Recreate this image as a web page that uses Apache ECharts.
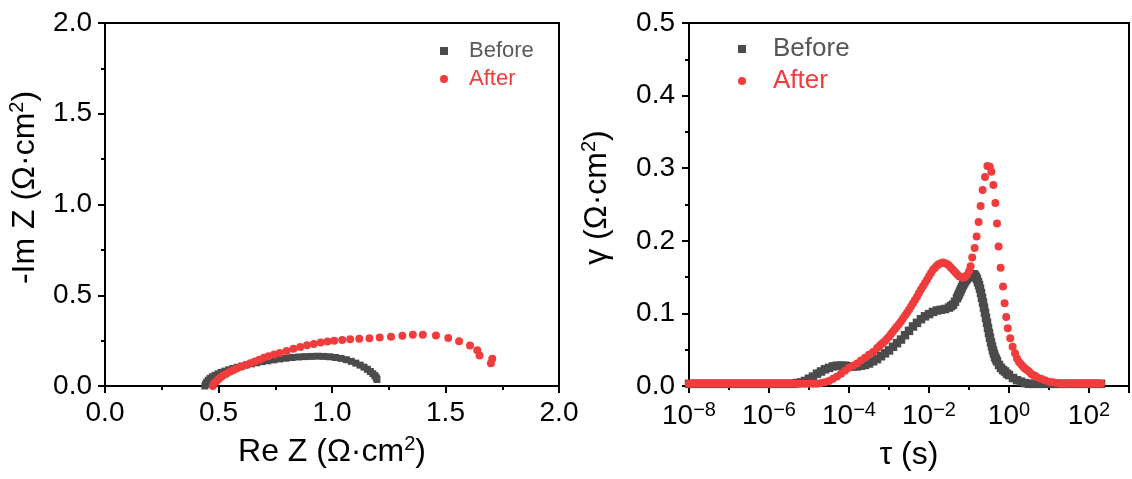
<!DOCTYPE html>
<html><head><meta charset="utf-8">
<script src="https://cdn.jsdelivr.net/npm/echarts@6/dist/echarts.min.js"></script>
<style>html,body{margin:0;padding:0;background:#fff}#c{width:1132px;height:479px}</style>
</head><body><div id="c"></div>
<script>
// ---------- data ----------
const seriesNames = ['Before', 'After'];

// Nyquist plot: [Re Z, -Im Z] in ohm*cm^2
const nyquistBefore = [
[0.440,0.000],[0.443,0.010],[0.448,0.021],[0.455,0.032],[0.463,0.042],[0.473,0.051],[0.485,0.059],[0.498,0.067],
[0.512,0.075],[0.528,0.082],[0.545,0.089],[0.563,0.096],[0.582,0.103],[0.602,0.110],[0.623,0.116],[0.645,0.122],
[0.668,0.128],[0.692,0.134],[0.717,0.139],[0.743,0.144],[0.770,0.149],[0.797,0.153],[0.825,0.157],[0.853,0.160],
[0.881,0.162],[0.909,0.163],[0.937,0.164],[0.964,0.163],[0.990,0.161],[1.015,0.157],[1.040,0.152],[1.063,0.145],
[1.085,0.136],[1.105,0.126],[1.124,0.115],[1.141,0.104],[1.156,0.092],[1.169,0.080],[1.180,0.068],[1.189,0.057],
[1.195,0.046],[1.198,0.036]
];
const nyquistAfter = [
[0.475,0.000],[0.480,0.012],[0.490,0.025],[0.500,0.037],[0.510,0.048],[0.520,0.058],[0.535,0.068],[0.550,0.078],
[0.565,0.087],[0.580,0.096],[0.600,0.106],[0.620,0.116],[0.640,0.126],[0.660,0.135],[0.680,0.145],[0.700,0.155],
[0.720,0.164],[0.745,0.173],[0.770,0.182],[0.800,0.193],[0.830,0.205],[0.860,0.215],[0.890,0.225],[0.920,0.232],
[0.950,0.239],[0.980,0.245],[1.010,0.250],[1.045,0.254],[1.080,0.257],[1.120,0.260],[1.165,0.263],[1.210,0.267],
[1.260,0.272],[1.310,0.277],[1.356,0.283],[1.400,0.283],[1.458,0.278],[1.512,0.265],[1.560,0.247],[1.608,0.223],
[1.640,0.197],[1.650,0.168],[1.706,0.150],[1.700,0.125]
];

// DRT plot: [log10(tau / s), gamma in ohm*cm^2]
const drtBefore = [
[-8.0,0.003],[-7.9,0.003],[-7.8,0.003],[-7.7,0.003],[-7.6,0.003],[-7.5,0.003],[-7.4,0.003],[-7.3,0.003],[-7.2,0.003],
[-7.1,0.003],[-7.0,0.003],[-6.9,0.003],[-6.8,0.003],[-6.7,0.003],[-6.6,0.003],[-6.5,0.003],[-6.4,0.003],[-6.3,0.003],
[-6.2,0.003],[-6.1,0.003],[-6.0,0.003],[-5.9,0.003],[-5.8,0.003],[-5.7,0.003],[-5.6,0.003],[-5.5,0.003],[-5.4,0.003],
[-5.3,0.004],[-5.2,0.005],[-5.1,0.007],[-5.0,0.010],[-4.9,0.013],[-4.8,0.017],[-4.7,0.020],[-4.6,0.023],[-4.5,0.025],
[-4.4,0.027],[-4.3,0.028],[-4.2,0.028],[-4.1,0.028],[-4.0,0.027],[-3.9,0.027],[-3.8,0.027],[-3.7,0.028],[-3.6,0.029],
[-3.5,0.031],[-3.4,0.034],[-3.3,0.037],[-3.2,0.041],[-3.1,0.045],[-3.0,0.049],[-2.9,0.054],[-2.8,0.059],[-2.7,0.064],
[-2.6,0.070],[-2.5,0.076],[-2.4,0.082],[-2.3,0.087],[-2.2,0.092],[-2.1,0.096],[-2.0,0.099],[-1.9,0.102],[-1.8,0.104],
[-1.7,0.105],[-1.6,0.106],[-1.5,0.108],[-1.45,0.110],[-1.4,0.112],[-1.35,0.116],[-1.3,0.121],[-1.275,0.124],
[-1.25,0.127],[-1.225,0.130],[-1.2,0.133],[-1.175,0.136],[-1.15,0.139],[-1.125,0.1415],[-1.1,0.144],[-1.075,0.146],
[-1.05,0.148],[-1.025,0.1495],[-1.0,0.151],[-0.975,0.152],[-0.95,0.153],[-0.925,0.1535],[-0.9,0.154],[-0.875,0.1535],
[-0.85,0.152],[-0.825,0.150],[-0.8,0.147],[-0.775,0.143],[-0.75,0.139],[-0.725,0.134],[-0.7,0.128],[-0.675,0.1215],
[-0.65,0.115],[-0.625,0.108],[-0.6,0.101],[-0.575,0.094],[-0.55,0.087],[-0.525,0.080],[-0.5,0.073],[-0.475,0.0665],
[-0.45,0.060],[-0.425,0.0545],[-0.4,0.049],[-0.375,0.0445],[-0.35,0.040],[-0.325,0.037],[-0.3,0.034],
[-0.25,0.029],[-0.2,0.025],[-0.15,0.022],[-0.1,0.020],[-0.05,0.017],[0.0,0.015],[0.1,0.011],[0.2,0.008],[0.3,0.006],
[0.4,0.004],[0.5,0.003],[0.6,0.003],[0.7,0.003],[0.8,0.003],[0.9,0.003],[1.0,0.003],[1.1,0.003],[1.2,0.003],[1.3,0.003],
[1.4,0.003],[1.5,0.003],[1.6,0.003],[1.7,0.003],[1.8,0.003],[1.9,0.003],[2.0,0.003],[2.1,0.003],[2.2,0.003],[2.3,0.003]
];
const drtAfter = [
[-8.0,0.003],[-7.9,0.003],[-7.8,0.003],[-7.7,0.003],[-7.6,0.003],[-7.5,0.003],[-7.4,0.003],[-7.3,0.003],[-7.2,0.003],
[-7.1,0.003],[-7.0,0.003],[-6.9,0.003],[-6.8,0.003],[-6.7,0.003],[-6.6,0.003],[-6.5,0.003],[-6.4,0.003],[-6.3,0.003],
[-6.2,0.003],[-6.1,0.003],[-6.0,0.003],[-5.9,0.003],[-5.8,0.003],[-5.7,0.003],[-5.6,0.003],[-5.5,0.003],[-5.4,0.003],
[-5.3,0.003],[-5.2,0.003],[-5.1,0.003],[-5.0,0.003],[-4.9,0.003],[-4.8,0.003],
[-4.7,0.004],[-4.6,0.005],[-4.5,0.007],[-4.4,0.010],[-4.3,0.013],[-4.2,0.017],[-4.1,0.021],[-4.0,0.025],[-3.9,0.028],
[-3.8,0.031],[-3.7,0.035],[-3.6,0.039],[-3.5,0.043],[-3.4,0.047],[-3.3,0.052],
[-3.25,0.0545],[-3.2,0.057],[-3.15,0.0595],[-3.1,0.062],[-3.05,0.065],[-3.0,0.068],[-2.95,0.0715],[-2.9,0.075],
[-2.85,0.0785],[-2.8,0.082],[-2.75,0.0855],[-2.7,0.089],[-2.65,0.093],[-2.6,0.097],[-2.55,0.101],[-2.5,0.105],
[-2.45,0.1095],[-2.4,0.114],[-2.35,0.1185],[-2.3,0.123],[-2.25,0.128],[-2.2,0.133],[-2.15,0.1375],[-2.1,0.142],
[-2.05,0.1465],[-2.0,0.151],[-1.95,0.1555],[-1.9,0.160],[-1.85,0.163],[-1.8,0.166],[-1.75,0.168],[-1.7,0.169],
[-1.65,0.170],[-1.6,0.169],[-1.55,0.168],[-1.5,0.166],[-1.45,0.163],[-1.4,0.160],[-1.35,0.157],[-1.3,0.154],
[-1.25,0.151],[-1.2,0.150],[-1.15,0.149],[-1.1,0.150],[-1.05,0.153],[-1.0,0.158],[-0.96,0.165],
[-0.92,0.177],[-0.86,0.190],[-0.81,0.206],[-0.76,0.226],[-0.71,0.248],[-0.66,0.270],[-0.60,0.288],[-0.54,0.303],
[-0.48,0.302],[-0.44,0.295],[-0.39,0.277],[-0.34,0.252],[-0.30,0.224],[-0.26,0.192],[-0.21,0.163],[-0.15,0.137],
[-0.11,0.114],[-0.07,0.095],[-0.03,0.0795],[0.03,0.0657],[0.09,0.054],[0.15,0.045],
[0.2,0.038],[0.25,0.033],[0.3,0.030],[0.35,0.027],[0.4,0.024],[0.45,0.022],[0.5,0.020],[0.55,0.017],[0.6,0.015],
[0.65,0.014],[0.7,0.012],[0.8,0.010],[0.9,0.008],[1.0,0.006],[1.1,0.005],[1.2,0.004],[1.3,0.003],[1.4,0.003],
[1.5,0.003],[1.6,0.003],[1.7,0.003],[1.8,0.003],[1.9,0.003],[2.0,0.003],[2.1,0.003],[2.2,0.003],[2.3,0.003]
];

// tick labels on the tau axis (exponents of 10)
const tauTickExponents = [-8, -6, -4, -2, 0, 2];

// ---------- style ----------
const FONT = '"Liberation Sans", Arial, sans-serif';
const GRAY = '#4b4b4b';
const RED = '#f03c3c';
const BLACK = '#000';

function nameStyle(padding) {
  return {
    fontSize: 32, color: BLACK, fontFamily: FONT, lineHeight: 36, padding: padding,
    rich: { sup: { fontSize: 20, color: BLACK, fontFamily: FONT, verticalAlign: 'top', lineHeight: 18 } }
  };
}

function baseAxis(extra) {
  return Object.assign({
    type: 'value',
    axisLine: { show: true, onZero: false, lineStyle: { color: BLACK, width: 2 } },
    axisTick: { show: true, inside: false, length: 7, lineStyle: { color: BLACK, width: 2 } },
    minorTick: { show: true, splitNumber: 2, length: 4, lineStyle: { color: BLACK, width: 2 } },
    splitLine: { show: false },
    minorSplitLine: { show: false },
    axisLabel: { fontSize: 28, color: BLACK, fontFamily: FONT },
    nameLocation: 'middle',
    nameTextStyle: nameStyle([0, 0, 0, 0])
  }, extra);
}

const supMinus = '\u2212';

const option = {
  animation: false,
  backgroundColor: '#fff',
  grid: [
    { left: 105, top: 23, width: 454, height: 363, show: true, borderColor: BLACK, borderWidth: 2, containLabel: false },
    { left: 689, top: 23, width: 452, height: 363, show: true, borderColor: BLACK, borderWidth: 2, containLabel: false }
  ],
  legend: [
    {
      orient: 'vertical', left: 435, top: 34, itemWidth: 8, itemHeight: 8, itemGap: 4, selectedMode: false,
      textStyle: { fontSize: 22, fontFamily: FONT, lineHeight: 24, padding: [0, 0, 0, 16] },
      data: [
        { name: seriesNames[0], icon: 'rect', itemStyle: { color: GRAY }, textStyle: { color: '#5a5a5a' } },
        { name: seriesNames[1], icon: 'circle', itemStyle: { color: RED }, textStyle: { color: RED } }
      ]
    },
    {
      orient: 'vertical', left: 733, top: 30, itemWidth: 8, itemHeight: 8, itemGap: 4, selectedMode: false,
      textStyle: { fontSize: 26, fontFamily: FONT, lineHeight: 28, padding: [0, 0, 0, 22] },
      data: [
        { name: seriesNames[0], icon: 'rect', itemStyle: { color: GRAY }, textStyle: { color: '#555555' } },
        { name: seriesNames[1], icon: 'circle', itemStyle: { color: RED }, textStyle: { color: RED } }
      ]
    }
  ],
  xAxis: [
    baseAxis({
      gridIndex: 0, min: 0, max: 2, interval: 0.5,
      axisLabel: { fontSize: 28, color: BLACK, fontFamily: FONT, margin: 13, formatter: v => v.toFixed(1) },
      name: 'Re Z (Ω·cm{sup|2})', nameGap: 48
    }),
    baseAxis({
      gridIndex: 1, min: -8, max: 3, interval: 2,
      axisLabel: {
        fontSize: 28, color: BLACK, fontFamily: FONT, margin: 14, lineHeight: 32,
        formatter: v => tauTickExponents.indexOf(v) >= 0 ? '10{sup|' + (v < 0 ? supMinus : '') + Math.abs(v) + '}' : '',
        rich: { sup: { fontSize: 20, color: BLACK, fontFamily: FONT, verticalAlign: 'top', lineHeight: 16 } }
      },
      name: 'τ (s)', nameGap: 48, nameTextStyle: nameStyle([0, 0, 0, 0])
    })
  ],
  yAxis: [
    baseAxis({
      gridIndex: 0, min: 0, max: 2, interval: 0.5,
      axisLabel: { fontSize: 28, color: BLACK, fontFamily: FONT, margin: 13, formatter: v => v.toFixed(1) },
      name: '-Im Z (Ω·cm{sup|2})', nameGap: 62, nameTextStyle: nameStyle([0, 0, 0, 34])
    }),
    baseAxis({
      gridIndex: 1, min: 0, max: 0.5, interval: 0.1,
      axisLabel: { fontSize: 28, color: BLACK, fontFamily: FONT, margin: 14, formatter: v => v.toFixed(1) },
      name: 'γ (Ω·cm{sup|2})', nameGap: 74, nameTextStyle: nameStyle([0, 0, 0, 14])
    })
  ],
  series: [
    { name: seriesNames[0], type: 'scatter', xAxisIndex: 0, yAxisIndex: 0, data: nyquistBefore,
      symbol: 'rect', symbolSize: 7, itemStyle: { color: GRAY, opacity: 1 } },
    { name: seriesNames[1], type: 'scatter', xAxisIndex: 0, yAxisIndex: 0, data: nyquistAfter,
      symbol: 'circle', symbolSize: 8, itemStyle: { color: RED, opacity: 1 } },
    { name: seriesNames[0], type: 'scatter', xAxisIndex: 1, yAxisIndex: 1, data: drtBefore,
      symbol: 'rect', symbolSize: 8.5, itemStyle: { color: GRAY, opacity: 1 } },
    { name: seriesNames[1], type: 'scatter', xAxisIndex: 1, yAxisIndex: 1, data: drtAfter,
      symbol: 'circle', symbolSize: 8, itemStyle: { color: RED, opacity: 1 } }
  ]
};

const chart = echarts.init(document.getElementById('c'), null, { renderer: 'canvas' });
chart.setOption(option);
</script>
</body></html>
